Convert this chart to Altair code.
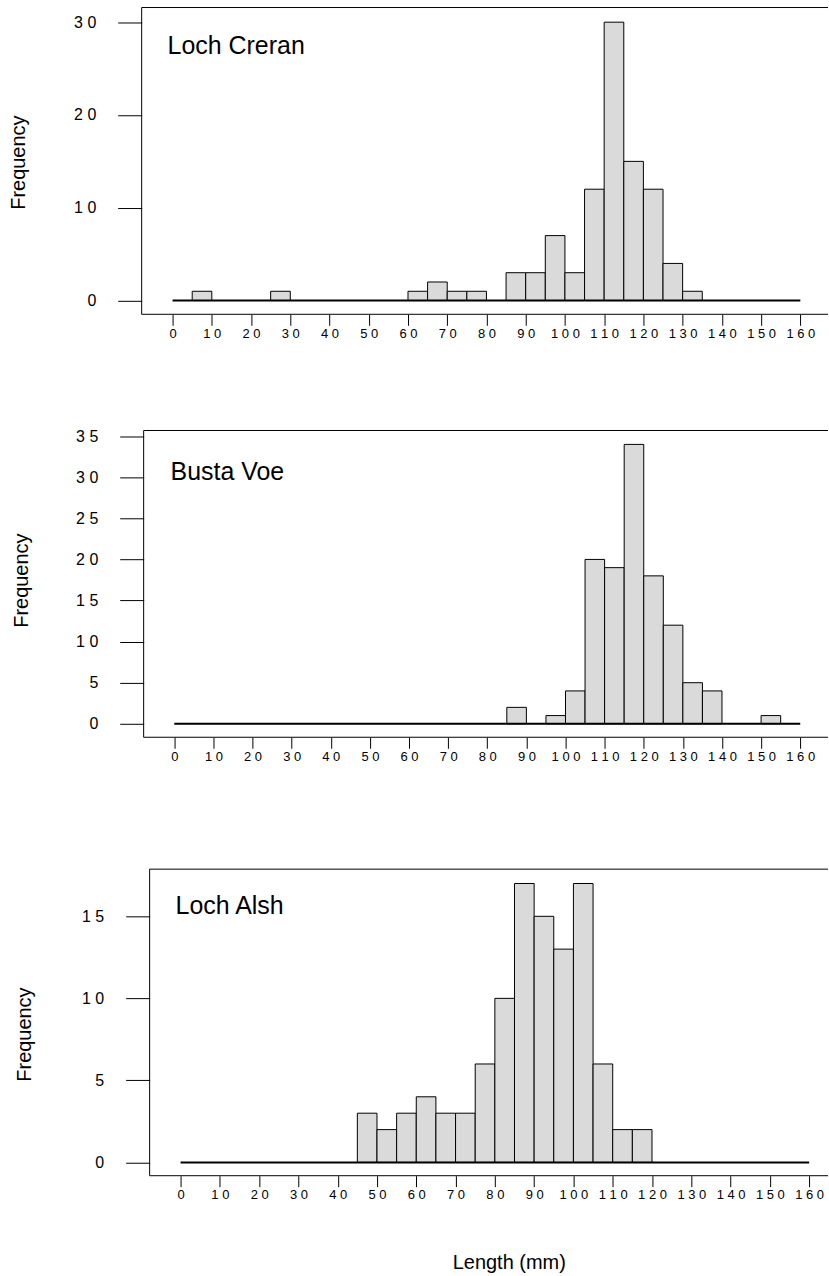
import altair as alt
import pandas as pd

FONT = "Liberation Sans"

# 5 mm bins from 0 to 160
bin_starts = list(range(0, 160, 5))
x_tick_values = list(range(0, 161, 10))

creran_counts = [0, 1, 0, 0, 0, 1, 0, 0, 0, 0, 0, 0, 1, 2, 1, 1,
                 0, 3, 3, 7, 3, 12, 30, 15, 12, 4, 1, 0, 0, 0, 0, 0]
busta_counts = [0, 0, 0, 0, 0, 0, 0, 0, 0, 0, 0, 0, 0, 0, 0, 0,
                0, 2, 0, 1, 4, 20, 19, 34, 18, 12, 5, 4, 0, 0, 1, 0]
alsh_counts = [0, 0, 0, 0, 0, 0, 0, 0, 0, 3, 2, 3, 4, 3, 3, 6,
               10, 17, 15, 13, 17, 6, 2, 2, 0, 0, 0, 0, 0, 0, 0, 0]

site_names = ["Loch Creran", "Busta Voe", "Loch Alsh"]
y_ticks = [[0, 10, 20, 30], [0, 5, 10, 15, 20, 25, 30, 35], [0, 5, 10, 15]]

SPACED = "join(split(datum.label, ''), ' ')"
PLOT_W = 688


def make_panel(counts, name, yvals, height, ydom, xdom, dx, dy, yoff,
               tx, ty, ytx, yty, xtitle):
    df = pd.DataFrame({"start": bin_starts,
                       "end": [b + 5 for b in bin_starts],
                       "count": counts})
    df = df[df["count"] > 0].copy()
    df["base"] = 0

    x_axis_kw = dict(values=x_tick_values, tickSize=11, tickColor="black",
                     tickWidth=1, domain=False, grid=False,
                     labelFontSize=13, labelFont=FONT, labelColor="black",
                     labelPadding=2, labelOverlap=False, labelExpr=SPACED)
    if xtitle:
        x_axis = alt.Axis(title=xtitle, titleFont=FONT, titleFontSize=20,
                          titleFontWeight="normal", titleColor="black",
                          titleX=368, titleY=93, titleBaseline="alphabetic",
                          titleAlign="center", **x_axis_kw)
    else:
        x_axis = alt.Axis(title=None, **x_axis_kw)

    y_axis = alt.Axis(values=yvals, tickSize=24, tickColor="black",
                      tickWidth=1, domain=False, grid=False,
                      labelFontSize=16, labelFont=FONT, labelColor="black",
                      labelPadding=22, labelOverlap=False, labelExpr=SPACED,
                      offset=yoff, title="Frequency", titleFont=FONT,
                      titleFontSize=20, titleFontWeight="normal",
                      titleColor="black", titleAngle=270, titleX=ytx,
                      titleY=yty, titleBaseline="alphabetic",
                      titleAlign="center")

    xs = alt.Scale(domain=xdom, nice=False, zero=False)
    ys = alt.Scale(domain=ydom, nice=False, zero=False)

    bars = alt.Chart(df).mark_bar(fill="#dadada", stroke="black",
                                  strokeWidth=1).encode(
        x=alt.X("start:Q", scale=xs, axis=x_axis),
        x2="end:Q",
        y=alt.Y("count:Q", scale=ys, axis=y_axis),
        y2="base:Q",
    )

    base_df = pd.DataFrame({"x0": [bin_starts[0]], "x1": [bin_starts[-1] + 5],
                            "y0": [0]})
    baseline = alt.Chart(base_df).mark_rule(color="black", strokeWidth=2).encode(
        x=alt.X("x0:Q", scale=xs, axis=x_axis),
        x2="x1:Q",
        y=alt.Y("y0:Q", scale=ys, axis=y_axis),
    )

    one = pd.DataFrame({"k": [0]})
    left = alt.Chart(one).mark_rule(color="black", strokeWidth=1).encode(
        x=alt.value(dx), y=alt.value(dy), y2=alt.value(height))
    top = alt.Chart(one).mark_rule(color="black", strokeWidth=1).encode(
        x=alt.value(dx), x2=alt.value(PLOT_W), y=alt.value(dy))
    bottom = alt.Chart(one).mark_rule(color="black", strokeWidth=1).encode(
        x=alt.value(dx), x2=alt.value(PLOT_W), y=alt.value(height))

    label = alt.Chart(pd.DataFrame({"name": [name]})).mark_text(
        align="left", baseline="alphabetic", font=FONT, fontSize=25,
        color="black").encode(x=alt.value(tx), y=alt.value(ty), text="name:N")

    return alt.layer(bars, baseline, left, top, bottom, label).properties(
        width=PLOT_W, height=height)


p1 = make_panel(creran_counts, site_names[0], y_ticks[0], 307.5,
                [-1.48, 31.58], [-7.88, 167.05], 0, 0, 0, 26, 47, -117, 155, None)
p2 = make_panel(busta_counts, site_names[1], y_ticks[1], 307.5,
                [-1.64, 35.69], [-8.34, 167.1], 2, 0, -2, 29, 50, -116, 150, None)
p3 = make_panel(alsh_counts, site_names[2], y_ticks[2], 323,
                [-0.81, 18.83], [-9.9, 164.8], 8, 15.7, -8, 34, 61, -119, 181,
                "Length (mm)")

chart = alt.vconcat(p1, p2, p3, spacing=116, bounds="flush").properties(
    padding={"left": 8, "top": 5, "right": 0, "bottom": 3}
).configure_view(stroke="transparent")

chart.save("out.html", embed_options={"renderer": "svg", "actions": False})
